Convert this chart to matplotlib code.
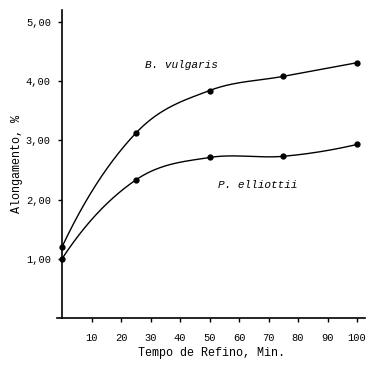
import numpy as np
import matplotlib.pyplot as plt

# refining time (min) and elongation (%)
tempo = [0, 25, 50, 75, 100]
b_vulgaris = [1.20, 3.12, 3.84, 4.08, 4.31]
p_elliottii = [1.00, 2.33, 2.71, 2.73, 2.93]

yticks = [1, 2, 3, 4, 5]
ytick_labels = ["1,00", "2,00", "3,00", "4,00", "5,00"]
xticks = [10, 20, 30, 40, 50, 60, 70, 80, 90, 100]


def smooth(x, y, n=40):
    # cubic hermite through the measured points, just for drawing the curve
    x = np.asarray(x, float)
    y = np.asarray(y, float)
    d = np.diff(y) / np.diff(x)
    m = np.zeros_like(y)
    m[1:-1] = (d[:-1] + d[1:]) / 2
    m[0] = 2.2 * d[0] - 1.2 * m[1]
    m[-1] = 2 * d[-1] - m[-2]
    xs, ys = [], []
    t = np.linspace(0, 1, n)
    for i in range(len(x) - 1):
        h = x[i + 1] - x[i]
        h00 = 2 * t**3 - 3 * t**2 + 1
        h10 = t**3 - 2 * t**2 + t
        h01 = -2 * t**3 + 3 * t**2
        h11 = t**3 - t**2
        xs.extend(x[i] + h * t)
        ys.extend(h00 * y[i] + h10 * h * m[i] + h01 * y[i + 1] + h11 * h * m[i + 1])
    return xs, ys


plt.rcParams['font.family'] = ['Liberation Mono', 'DejaVu Sans Mono']

fig = plt.figure(figsize=(3.70, 3.67), dpi=100)
ax = fig.add_axes([57 / 370, 49 / 367, 308 / 370, 308 / 367])

for ys in (b_vulgaris, p_elliottii):
    sx, sy = smooth(tempo, ys)
    ax.plot(sx, sy, color='black', lw=1.0)
    ax.plot(tempo, ys, 'o', color='black', ms=3.5)

ax.set_xlim(-1.7, 102.7)
ax.set_ylim(0, 5.2)
ax.spines['top'].set_visible(False)
ax.spines['right'].set_visible(False)
ax.spines['left'].set_position(('data', 0))
ax.spines['left'].set_linewidth(1.2)
ax.spines['bottom'].set_linewidth(1.2)

ax.set_yticks(yticks)
ax.set_yticklabels(ytick_labels)
ax.set_xticks(xticks)
ax.tick_params(axis='both', labelsize=7.5, length=3, width=1, direction='out')
ax.tick_params(axis='x', pad=8)
ax.tick_params(axis='y', pad=5)

ax.set_xlabel("Tempo de Refino, Min.", fontsize=8.5, labelpad=3)
ax.set_ylabel("Alongamento, %", fontsize=8.5, labelpad=2)

ax.text(28, 4.27, "B. vulgaris", fontsize=8, style='italic', va='center')
ax.text(53, 2.24, "P. elliottii", fontsize=8, style='italic', va='center')

fig.savefig("out.png", dpi=100)
